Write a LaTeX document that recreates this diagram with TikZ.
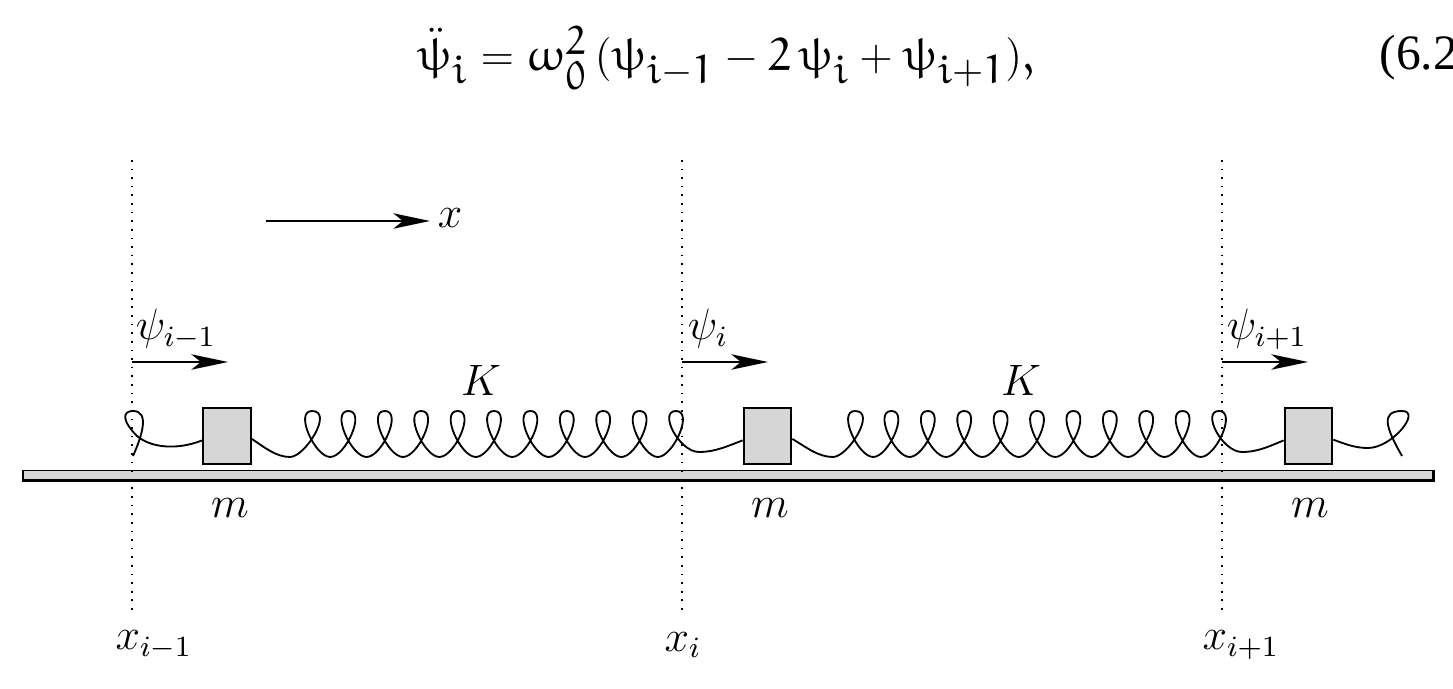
\documentclass[tikz,border=0pt,12pt]{standalone}
\usepackage{fontspec}
\usepackage{amsmath}
\usepackage{tikz}
\usetikzlibrary{arrows.meta}
\newfontfamily\eqnfont{Liberation Serif}
\DeclareFontFamily{U}{eur}{\skewchar\font'177}
\DeclareFontShape{U}{eur}{m}{n}{<-6>eurm5<6-8>eurm7<8->eurm10}{}
\DeclareMathVersion{euler}
\SetSymbolFont{letters}{euler}{U}{eur}{m}{n}
\DeclareMathSizes{12.6}{12.6}{11}{8}
\newcommand{\eud}[1]{\mathnormal{#1}}
% #1 = first loop top, #2 = number of steps to the next loop tops
\newcommand{\coil}[2]{
  \foreach \st [evaluate=\st as \tx using #1+(\st-1)*36.4] in {1,...,#2}{
    .. controls (\tx-18,411) and (\tx+3,457) .. (\tx+18.2,457)
    .. controls (\tx+33.4,457) and (\tx+54.4,411) .. (\tx+36.4,411)
  }
}
\tikzset{
  massbox/.style={draw, line width=0.55pt, fill=black!16, minimum width=13pt, minimum height=15.2pt, inner sep=0pt},
  lbl/.style={inner sep=0pt},
  guide/.style={line width=#1, dash pattern=on 0.45pt off 1.9pt},
  push/.style={line width=0.5pt, -{Stealth[length=10pt, width=4.2pt, inset=2.6pt]}},
  springline/.style={line width=0.5pt}
}
\begin{document}
\begin{tikzpicture}[x=0.2727pt, y=-0.2727pt]
  \useasboundingbox (0,0) rectangle (1453,689);

  % the equation on top
  \node[lbl] (eqn) at (726,58) {{\mathversion{euler}\fontsize{12.6}{18}\selectfont
    $\ddot\psi_i = \omega_{\eud{0}}^{\eud{2}}\,(\psi_{i-\eud{1}} - \eud{2}\,\psi_i + \psi_{i+\eud{1}}),$}};
  \node[lbl, anchor=west] (eqnum) at (1379,58) {\eqnfont\fontsize{13.5}{18}\selectfont (6.2};

  % rail
  \node[draw, line width=0.3pt, fill=black!16, minimum width=384.5pt, minimum height=2.6pt, inner sep=0pt] (rail) at (728,475) {};
  \draw[line width=0.8pt] (rail.south west) -- (rail.south east) -- (rail.north east);

  % dotted guides
  \foreach \nm/\xx/\lw in {a/132/0.55pt, b/682/0.3pt, c/1222/0.45pt}{
    \coordinate (top\nm) at (\xx,160);
    \coordinate (bot\nm) at (\xx,610);
    \draw[guide=\lw] (top\nm) -- (bot\nm);
  }
  \node[lbl] (xa) at (154,645) {$x_{i-1}$};
  \node[lbl] (xb) at (683,645) {$x_i$};
  \node[lbl] (xc) at (1241,645) {$x_{i+1}$};

  % axis arrow
  \coordinate (axisa) at (266,221);
  \coordinate (axisb) at (430,221);
  \node[lbl] (xlab) at (450,218) {$x$};
  \draw[push] (axisa) -- (axisb);

  % displacement arrows
  \foreach \nm/\xx/\yy in {a/132/228, b/682/768, c/1222/1308}{
    \coordinate (from\nm) at (\xx,362);
    \coordinate (to\nm) at (\yy,362);
    \draw[push] (from\nm) -- (to\nm);
  }
  \node[lbl] (psia) at (176,329) {$\psi_{i-1}$};
  \node[lbl] (psib) at (708,329) {$\psi_i$};
  \node[lbl] (psic) at (1267,329) {$\psi_{i+1}$};

  % masses
  \node[massbox] (m1) at (227,436) {};
  \node[massbox] (m2) at (767.5,436) {};
  \node[massbox] (m3) at (1308.5,436) {};
  \node[lbl] (ma) at (230,508) {$m$};
  \node[lbl] (mb) at (770,508) {$m$};
  \node[lbl] (mc) at (1310,508) {$m$};
  \node[lbl] (ka) at (481,380) {$K$};
  \node[lbl] (kb) at (1021,380) {$K$};

  % springs
  \coordinate (tailL) at (133,456);
  \coordinate (tailR) at (1402,456);
  \draw[springline] (tailL) .. controls (142,436) and (150,411) .. (133,411)
    .. controls (122,411) and (122,421) .. (137,436)
    .. controls (150,447) and (175,451) .. ([yshift=-1.2pt]m1.west);
  \draw[springline] ([yshift=-0.8pt]m1.east) .. controls (264,447) and (276,457) .. (290,457)
    .. controls (305,457) and (334,411) .. (312,411)
    \coil{312}{10}
    .. controls (658,411) and (679,452) .. (699,452)
    .. controls (716,452) and (730,445) .. ([yshift=-1.2pt]m2.west);
  \draw[springline] ([yshift=-0.8pt]m2.east) .. controls (806,447) and (818,457) .. (833,457)
    .. controls (848,457) and (877,411) .. (855,411)
    \coil{855}{10}
    .. controls (1201,411) and (1222,452) .. (1242,452)
    .. controls (1259,452) and (1272,445) .. ([yshift=-1.2pt]m3.west);
  \draw[springline] ([yshift=-1pt]m3.east) .. controls (1345,444) and (1355,448) .. (1368,448)
    .. controls (1392,448) and (1422,411) .. (1402,411)
    .. controls (1380,411) and (1386,428) .. (tailR);
\end{tikzpicture}
\end{document}
